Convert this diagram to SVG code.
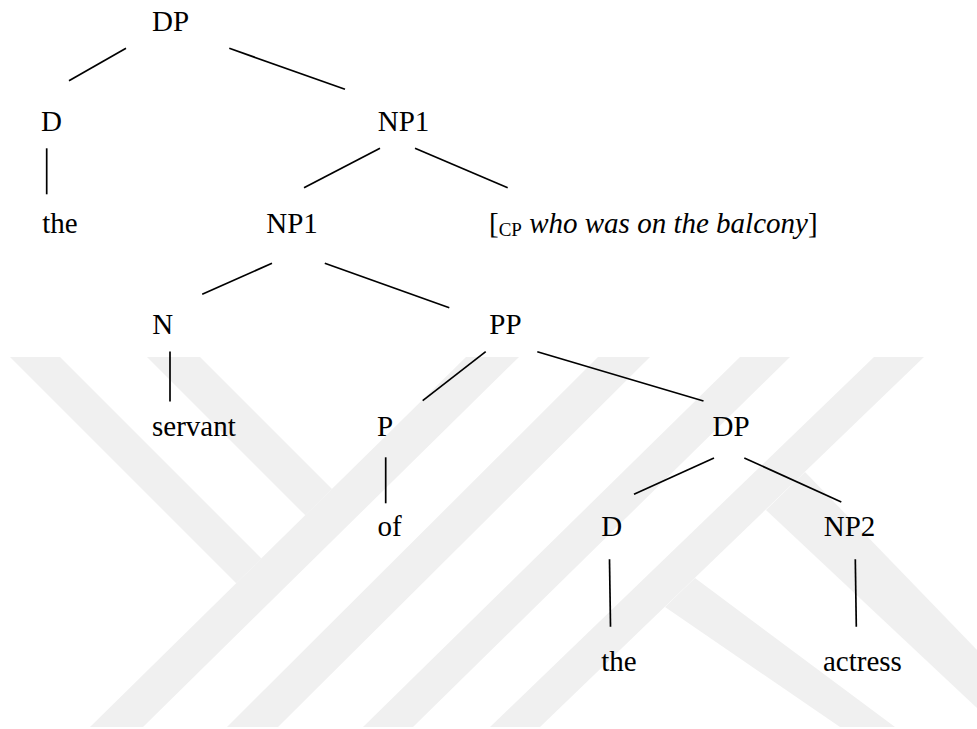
<svg xmlns="http://www.w3.org/2000/svg" width="977" height="729" viewBox="0 0 977 729">
  <style>
    text { font-family: 'Liberation Serif', Tinos, 'Times New Roman', Times, 'Nimbus Roman', 'FreeSerif', 'Noto Serif', 'DejaVu Serif', serif; font-size: 29px; fill: #000; }
    .it { font-style: italic; }
    .sub { font-size: 19px; }
    .edge { stroke: #000; stroke-width: 1.7; fill: none; }
    .band { fill: #f0f0f0; }
  </style>
  <defs>
    <clipPath id="wm-clip">
      <rect x="0" y="357" width="977" height="370"/>
    </clipPath>
  </defs>
  <rect width="977" height="729" fill="#fff"/>

  <!-- background logo bands -->
  <g id="watermark" clip-path="url(#wm-clip)">
    <polygon class="band" points="-7,340 43,340 261.4,558.4 236.2,583.2"/>
    <polygon class="band" points="130,340 183,340 332,489 305.3,515.3"/>
    <polygon class="band" points="466,357 519,357 143,727 90,727"/>
    <polygon class="band" points="598,357 650,357 278,727 227,727"/>
    <polygon class="band" points="740,357 790,357 413,727 363,727"/>
    <polygon class="band" points="874,357 924,357 540,727 490,727"/>
    <polygon class="band" points="805,472 977,650 977,708 766,510"/>
    <polygon class="band" points="695,578 895,727 840,727 665,607"/>
  </g>

  <g id="connectors">
    <line class="edge" x1="126" y1="48.3" x2="69" y2="80.7"/>
    <line class="edge" x1="229.3" y1="48.3" x2="345" y2="89.3"/>
    <line class="edge" x1="46.7" y1="148.3" x2="46.7" y2="194.3"/>
    <line class="edge" x1="380" y1="148.3" x2="304" y2="187.7"/>
    <line class="edge" x1="415" y1="148.3" x2="507.7" y2="187.7"/>
    <line class="edge" x1="272" y1="263.3" x2="202.2" y2="294.3"/>
    <line class="edge" x1="324.8" y1="263.3" x2="449.3" y2="307.7"/>
    <line class="edge" x1="170" y1="351.5" x2="170" y2="401.5"/>
    <line class="edge" x1="485.7" y1="351.7" x2="422.7" y2="400.7"/>
    <line class="edge" x1="537.3" y1="351.7" x2="703.5" y2="401"/>
    <line class="edge" x1="385.7" y1="457.3" x2="385.7" y2="503.3"/>
    <line class="edge" x1="714" y1="458" x2="634" y2="494.3"/>
    <line class="edge" x1="744.3" y1="458" x2="841.3" y2="502"/>
    <line class="edge" x1="609.5" y1="559.3" x2="610.5" y2="626.7"/>
    <line class="edge" x1="855.3" y1="559.3" x2="856.3" y2="626.7"/>
  </g>

  <g id="n-dp"><text x="152" y="30.5">DP</text></g>
  <g id="n-d"><text x="41" y="131">D</text></g>
  <g id="n-np1-top"><text x="377.7" y="131">NP1</text></g>
  <g id="n-the"><text x="42.3" y="232.5">the</text></g>
  <g id="n-np1"><text x="266.2" y="232.5">NP1</text></g>
  <g id="n-cp"><text x="489" y="232.5">[<tspan class="sub" dy="3">CP</tspan><tspan class="it" dy="-3"> who was on the balcony</tspan>]</text></g>
  <g id="n-n"><text x="152.2" y="333.5">N</text></g>
  <g id="n-pp"><text x="489.3" y="333.5">PP</text></g>
  <g id="n-servant"><text x="152" y="435.5">servant</text></g>
  <g id="n-p"><text x="377" y="435.5">P</text></g>
  <g id="n-dp-low"><text x="712.5" y="435.5">DP</text></g>
  <g id="n-of"><text x="377.4" y="536">of</text></g>
  <g id="n-d-low"><text x="601.3" y="536">D</text></g>
  <g id="n-np2"><text x="823.7" y="536">NP2</text></g>
  <g id="n-the-low"><text x="601.3" y="671">the</text></g>
  <g id="n-actress"><text x="823" y="671">actress</text></g>
</svg>
